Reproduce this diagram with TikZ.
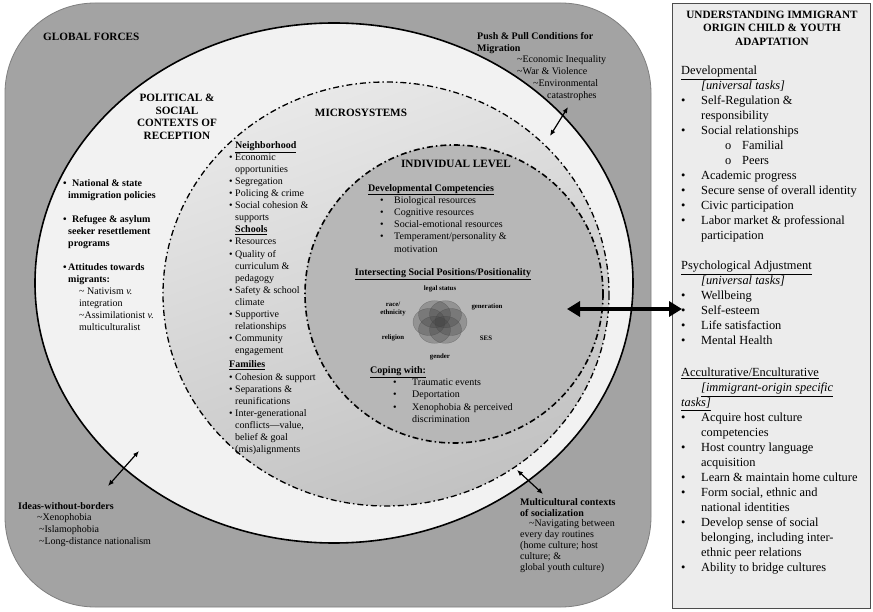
\documentclass[tikz,border=0pt]{standalone}
\usepackage{fontspec}
\setmainfont{Liberation Serif}
\usetikzlibrary{arrows.meta,positioning}
\definecolor{globgray}{HTML}{A3A3A3}
\definecolor{globedge}{HTML}{7F7F7F}
\definecolor{polfill}{HTML}{F2F2F2}
\definecolor{indfill}{HTML}{B7B7B7}
\definecolor{boxfill}{HTML}{ECECEC}
\newcommand{\bpt}[2][6pt]{\makebox[#1][l]{\textbullet}#2}
\newcommand{\hgap}[1][6pt]{\hspace*{#1}}
\newcommand{\tld}{\textasciitilde}
\begin{document}
\begin{tikzpicture}[x=1pt,y=-1pt,
glob/.style = {draw=globedge,fill=globgray,line width=0.8pt,rounded corners=90pt},
pol/.style = {draw=black,fill=polfill,line width=1.6pt},
mic/.style = {draw=black,top color=black!9,bottom color=black!24,shading angle=20,line width=1.3pt,dash pattern=on 6pt off 3pt on 1.5pt off 3pt},
ind/.style = {draw=black,fill=indfill,line width=1.6pt,dash pattern=on 6pt off 3pt on 1.5pt off 3pt},
rbox/.style = {draw=black!70,fill=boxfill,line width=0.9pt},
txt/.style = {anchor=north west,inner sep=0pt,align=left,font=\fontsize{10}{12}\selectfont},
hd/.style = {inner sep=0pt,align=center,font=\bfseries\fontsize{11.2}{12.6}\selectfont},
rtxt/.style = {anchor=north west,inner sep=0pt,align=left,font=\fontsize{12.4}{15}\selectfont},
vlab/.style = {inner sep=0pt,align=center,font=\bfseries\fontsize{6.8}{7.2}\selectfont},
petal/.style = {fill=black!75,fill opacity=0.3,draw=black!75,draw opacity=0.4,line width=0.4pt},
dbl/.style = {draw,{Latex[length=6pt,width=5pt]}-{Latex[length=6pt,width=5pt]},line width=1.2pt},
big/.style = {draw,{Triangle[length=13pt,width=15pt]}-{Triangle[length=13pt,width=15pt]},line width=3.5pt}
]
\useasboundingbox (0,0) rectangle (873,612);

% nested contexts
\path[glob] (5,3) rectangle (651,607);
\path[pol] (334,283) ellipse [x radius=299, y radius=260];
\path[mic] (386,294) ellipse [x radius=223, y radius=212];
\path[ind] (454,294) ellipse [x radius=149, y radius=149];
\path[rbox] (672,3) rectangle (870,608);

% global forces
\node[hd,anchor=west] (global) at (43,37) {GLOBAL FORCES};
\node[txt,font=\fontsize{10}{11.8}\selectfont] (pushpull) at (477,32) {%
\textbf{Push \& Pull Conditions for}\\
\textbf{Migration}\\
\hgap[40pt]\tld Economic Inequality\\
\hgap[40pt]\tld War \& Violence\\
\hgap[56pt]\tld Environmental\\
\hgap[70pt]catastrophes};
\node[txt,font=\fontsize{10}{11.7}\selectfont] (ideas) at (18,502) {%
\textbf{Ideas-without-borders}\\
\hgap[19pt]\tld Xenophobia\\
\hgap[21pt]\tld Islamophobia\\
\hgap[21pt]\tld Long-distance nationalism};
\node[txt,font=\fontsize{10}{10.9}\selectfont] (multi) at (520,498) {%
\textbf{Multicultural contexts}\\
\textbf{of socialization}\\
\hgap[9pt]\tld Navigating between\\
every day routines\\
(home culture; host\\
culture; \&\\
global youth culture)};

% political & social contexts
\node[hd] (political) at (177,117) {POLITICAL \&\\SOCIAL\\CONTEXTS OF\\RECEPTION};
\node[txt,font=\bfseries\fontsize{10}{12}\selectfont] (policies) at (63,179) {%
\bpt[9pt]{National \& state}\\
\hgap[5pt]immigration policies\\[12pt]
\bpt[9pt]{Refugee \& asylum}\\
\hgap[5pt]seeker resettlement\\
\hgap[5pt]programs\\[12pt]
\bpt[5pt]{Attitudes towards}\\
\hgap[5pt]migrants:\\
{\mdseries\hgap[16pt]\tld\ Nativism \textit{v.}}\\
{\mdseries\hgap[16pt]integration}\\
{\mdseries\hgap[16pt]\tld Assimilationist \textit{v.}}\\
{\mdseries\hgap[16pt]multiculturalist}};

% microsystems
\node[hd] (micro) at (361,113) {MICROSYSTEMS};
\node[txt,font=\fontsize{10}{12.1}\selectfont] (microlist) at (229,141) {%
\hgap\textbf{\underline{Neighborhood}}\\
\bpt{Economic}\\
\hgap opportunities\\
\bpt{Segregation}\\
\bpt{Policing \& crime}\\
\bpt{Social cohesion \&}\\
\hgap supports\\
\hgap\textbf{\underline{Schools}}\\
\bpt{Resources}\\
\bpt{Quality of}\\
\hgap curriculum \&\\
\hgap pedagogy\\
\bpt{Safety \& school}\\
\hgap climate\\
\bpt{Supportive}\\
\hgap relationships\\
\bpt{Community}\\
\hgap engagement\\[2pt]
\textbf{\underline{Families}}\\
\bpt{Cohesion \& support}\\
\bpt{Separations \&}\\
\hgap reunifications\\
\bpt{Inter-generational}\\
\hgap conflicts---value,\\
\hgap belief \& goal\\
\hgap (mis)alignments};

% individual level
\node[hd] (indiv) at (456,164) {INDIVIDUAL LEVEL};
\node[txt,font=\fontsize{10}{12.2}\selectfont] (devcomp) at (368,184) {%
\textbf{\underline{Developmental Competencies}}\\
\hgap[12pt]\bpt[14pt]{Biological resources}\\
\hgap[12pt]\bpt[14pt]{Cognitive resources}\\
\hgap[12pt]\bpt[14pt]{Social-emotional resources}\\
\hgap[12pt]\bpt[14pt]{Temperament/personality \&}\\
\hgap[26pt]motivation};
\node[inner sep=0pt,font=\bfseries\fontsize{10}{12}\selectfont] (intersect) at (443,274) {\underline{Intersecting Social Positions/Positionality}};
\foreach \a in {0,60,...,300}
  \path[petal] ({440+11*cos(\a)},{322+9*sin(\a)}) ellipse [x radius=16, y radius=13.5];
\node[vlab] (legal) at (440,289) {legal status};
\node[vlab] (race) at (393,309) {race/\\ethnicity};
\node[vlab] (gen) at (487,307) {generation};
\node[vlab] (relig) at (393,338) {religion};
\node[vlab] (ses) at (486,338) {SES};
\node[vlab] (gender) at (440,357) {gender};
\node[txt,font=\fontsize{10}{12.3}\selectfont] (coping) at (370,366) {%
\textbf{\underline{Coping with:}}\\
\hgap[23pt]\bpt[19pt]{Traumatic events}\\
\hgap[23pt]\bpt[19pt]{Deportation}\\
\hgap[23pt]\bpt[19pt]{Xenophobia \& perceived}\\
\hgap[42pt]discrimination};

% adaptation outcomes
\node[hd,font=\bfseries\fontsize{11.2}{13.5}\selectfont] (outcomes) at (772,28) {UNDERSTANDING IMMIGRANT\\ORIGIN CHILD \& YOUTH\\ADAPTATION};
\node[rtxt] (devel) at (681,66) {%
\underline{Developmental}\\
\hgap[20pt]\textit{[universal tasks]}\\
\bpt[20pt]{Self-Regulation \&}\\
\hgap[20pt]responsibility\\
\bpt[20pt]{Social relationships}\\
\hgap[44pt]\makebox[17pt][l]{o}Familial\\
\hgap[44pt]\makebox[17pt][l]{o}Peers\\
\bpt[20pt]{Academic progress}\\
\bpt[20pt]{Secure sense of overall identity}\\
\bpt[20pt]{Civic participation}\\
\bpt[20pt]{Labor market \& professional}\\
\hgap[20pt]participation};
\node[rtxt] (psych) at (681,261) {%
\underline{Psychological Adjustment}\\
\hgap[20pt]\textit{[universal tasks]}\\
\bpt[20pt]{Wellbeing}\\
\bpt[20pt]{Self-esteem}\\
\bpt[20pt]{Life satisfaction}\\
\bpt[20pt]{Mental Health}};
\node[rtxt] (accult) at (681,368) {%
\underline{Acculturative/Enculturative}\\
\hgap[20pt]\textit{\underline{[immigrant-origin specific}}\\
\textit{\underline{tasks]}}\\
\bpt[20pt]{Acquire host culture}\\
\hgap[20pt]competencies\\
\bpt[20pt]{Host country language}\\
\hgap[20pt]acquisition\\
\bpt[20pt]{Learn \& maintain home culture}\\
\bpt[20pt]{Form social, ethnic and}\\
\hgap[20pt]national identities\\
\bpt[20pt]{Develop sense of social}\\
\hgap[20pt]belonging, including inter-\\
\hgap[20pt]ethnic peer relations\\
\bpt[20pt]{Ability to bridge cultures}};

% arrows
\coordinate (self) at (567,309);
\coordinate (tasks) at (682,309);
\coordinate (pushin) at (550,136);
\coordinate (pushout) at (568,107);
\coordinate (ideasin) at (139,451);
\coordinate (ideasout) at (108,486);
\coordinate (multiin) at (517,470);
\coordinate (multiout) at (543,494);
\path[big] (self) -- (tasks);
\path[dbl] (pushin) -- (pushout);
\path[dbl] (ideasin) -- (ideasout);
\path[dbl] (multiin) -- (multiout);

\end{tikzpicture}
\end{document}
